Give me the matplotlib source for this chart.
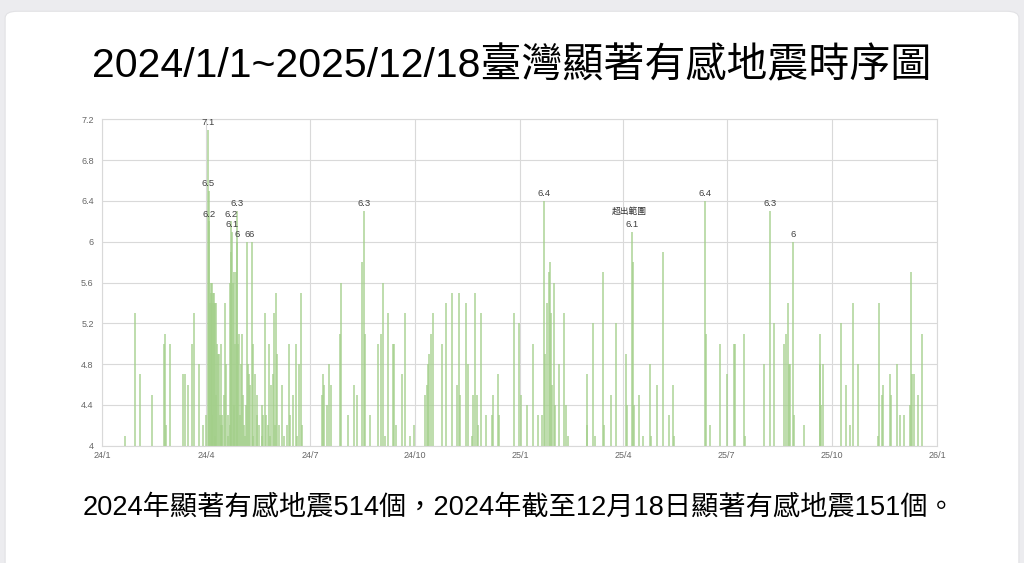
import matplotlib
matplotlib.use('Agg')
import matplotlib.pyplot as plt
import matplotlib.dates as mdates
from matplotlib.patches import FancyBboxPatch
import numpy as np
import datetime as dt

plt.rcParams['font.family'] = ['Liberation Sans', 'Noto Sans CJK TC', 'DejaVu Sans']

# days counted from 2024-01-01, magnitude (only the part above 4 is visible)
days = [
    20, 28.7, 33, 44, 54.5, 55.2, 56.4, 59.3, 71, 72.5, 75.7, 78.6, 80.6, 84.5, 88.5, 90.9,
    93.0, 93.3, 93.6, 94.5, 95, 95.5, 96, 96.3, 96.7, 97.3, 97.9, 98.5, 98.8, 99, 99.6, 100.2,
    100.8, 101.7, 102.5, 103.2, 103.8, 104.6, 105, 105.5, 106.7, 107.8, 109, 110, 110.4, 111.9,
    112, 112.8, 113.3, 113.6, 114.3, 115.2, 116, 116.3, 117.2, 118.0, 118.3, 119, 120, 120.5,
    121.3, 122.7, 123.6, 124, 125, 126, 127, 128, 128.7, 129.5, 130.9, 131.8, 132.5, 133.8,
    135.3, 136, 137.3, 139.7, 140.5, 141.1, 142.6, 144, 145, 146, 147, 148.4, 149.3, 150.7,
    151.5, 152.2, 153.4, 155, 157.5, 159, 161.6, 163.9, 165, 167.4, 169.8, 171, 172.1, 173.9, 175,
    192.3, 193.2, 194.3, 196.7, 198.7, 200.4, 208.3, 209.2, 215, 220.9, 223.5, 227.3, 229.1,
    230.2, 234.6, 241.9, 244.3, 246.3, 247.8, 250.7, 254.5, 255.9, 257.1, 262.4, 265.3, 269.7,
    273.2, 282.8, 284.3, 285.2, 286.6, 288.1, 290.1, 298, 301, 306.2, 311.1, 312.4, 313.8,
    318.8, 320.3, 324, 325.2, 326.7, 328.2, 329.5, 331.9, 336.3, 341.3, 342.7, 347, 347.9,
    361, 365.2,
    366.7, 372, 377.7, 382.1, 385, 387.1, 388, 390, 391.2, 392.4, 393.3, 394.1, 395.3, 396.5,
    400.5, 404.9, 406.4, 407.9, 424.5, 425, 430.3, 431.8, 438.2, 439.1, 445.8, 450.2, 459,
    459.6, 464.2, 464.9, 465.4, 469.8, 473.3, 480, 480.9, 485.9, 491.1, 496.1, 499.9, 500.4,
    527.6, 528.8, 532, 540.8, 547.2, 553, 554.5,
    561.8, 562.7, 579.9, 585.2, 588.1, 596.9, 599, 600.4, 601.2, 602.7, 605, 606.2, 614.4,
    628.4, 629, 629.9, 631.4, 647.2, 651.5, 655.3, 657.4, 661.7, 679.2, 680.1, 682.5, 683.6,
    689.5, 691.2, 696.2, 698.5, 702, 707.3, 708.5, 709.4, 710.8, 714.3, 718.1,
]
mags = [
    4.1, 5.3, 4.7, 4.5, 5.0, 5.1, 4.2, 5.0, 4.7, 4.7, 4.6, 5.0, 5.3, 4.8, 4.2, 4.3,
    7.1, 6.5, 6.2, 5.4, 5.5, 5.6, 5.6, 4.3, 5.4, 5.5, 5.5, 5.4, 5.4, 4.1, 5.4, 4.5,
    5.0, 4.9, 4.9, 4.3, 5.0, 4.2, 4.2, 4.3, 4.5, 5.4, 4.8, 4.1, 4.3, 5.6,
    4.2, 5.9, 6.2, 6.1, 5.6, 5.7, 4.4, 5.0, 5.7, 6.3, 6.0, 5.0, 5.1, 4.3,
    4.8, 5.1, 4.5, 4.2, 4.1, 4.4, 6.0, 4.8, 4.7, 4.6, 6.0, 5.0, 4.1, 4.7,
    4.5, 4.3, 4.2, 4.4, 4.1, 4.3, 5.3, 4.3, 4.2, 5.0, 4.1, 4.6, 4.7, 5.3,
    4.2, 5.5, 4.9, 4.2, 4.6, 4.1, 4.2, 5.0, 4.3, 4.5, 5.0, 4.1, 4.8, 5.5, 4.2,
    4.5, 4.7, 4.6, 4.4, 4.8, 4.6, 5.1, 5.6, 4.3, 4.6, 4.5, 5.8, 6.3,
    5.1, 4.3, 5.0, 5.1, 5.6, 4.1, 5.3, 5.0, 5.0, 4.2, 4.7, 5.3, 4.1,
    4.2, 4.5, 4.6, 4.8, 4.9, 5.1, 5.3, 5.0, 5.4, 5.5, 4.6, 5.5, 4.5,
    5.4, 4.8, 4.1, 4.5, 5.5, 4.5, 4.2, 5.3, 4.3, 4.3, 4.5, 4.7, 4.3,
    5.3, 5.2,
    4.5, 4.4, 5.0, 4.3, 4.3, 6.4, 4.9, 5.4, 5.7, 5.8, 5.3, 4.6, 5.6, 4.4,
    4.8, 5.3, 4.4, 4.1, 4.7, 4.2, 5.2, 4.1, 5.7, 4.2, 4.5, 5.2, 4.9,
    4.4, 6.1, 5.8, 4.4, 4.5, 4.1, 4.8, 4.1, 4.6, 5.9, 4.3, 4.6, 4.1,
    6.4, 5.1, 4.2, 5.0, 4.7, 5.0, 5.0,
    5.1, 4.1, 4.8, 6.3, 5.2, 5.0, 5.1, 5.4, 4.8, 4.8, 6.0, 4.3, 4.2,
    5.1, 4.8, 4.4, 4.8, 5.2, 4.6, 4.2, 5.4, 4.8, 4.1, 5.4, 4.5, 4.6,
    4.7, 4.5, 4.8, 4.3, 4.3, 4.4, 5.7, 4.7, 4.7, 4.5, 5.1,
]

# labelled quakes: day, magnitude, label
label_days = [93.0, 93.3, 93.6, 113.3, 113.6, 118.0, 118.3, 127, 130.9, 229.1, 387.1, 464.2, 527.6, 585.2, 605]
label_mags = [7.1, 6.5, 6.2, 6.2, 6.1, 6.3, 6.0, 6.0, 6.0, 6.3, 6.4, 6.1, 6.4, 6.3, 6.0]
label_txt = ['7.1', '6.5', '6.2', '6.2', '6.1', '6.3', '6', '6', '6', '6.3', '6.4', '6.1', '6.4', '6.3', '6']

quarter_dates = ['2024-01-01', '2024-04-01', '2024-07-01', '2024-10-01', '2025-01-01',
                 '2025-04-01', '2025-07-01', '2025-10-01', '2026-01-01']
quarter_labels = ['24/1', '24/4', '24/7', '24/10', '25/1', '25/4', '25/7', '25/10', '26/1']

title = '2024/1/1~2025/12/18臺灣顯著有感地震時序圖'
note = '2024年顯著有感地震514個，2024年截至12月18日顯著有感地震151個。'

start = mdates.date2num(dt.datetime(2024, 1, 1))
x = start + np.array(days)
lx = start + np.array(label_days)
qx = [mdates.date2num(dt.datetime.fromisoformat(d)) for d in quarter_dates]

fig = plt.figure(figsize=(10.24, 5.63), dpi=100)
fig.patch.set_facecolor('#ececef')
card = FancyBboxPatch((0.005, -0.05), 0.99, 1.03, boxstyle='round,pad=0,rounding_size=0.012',
                      transform=fig.transFigure, facecolor='white', edgecolor='#e2e2e5',
                      lw=0.8, zorder=-10)
fig.patches.append(card)

ax = fig.add_axes([0.0996, 0.2083, 0.8154, 0.5797])
ax.set_facecolor('white')
ax.vlines(x, 4, mags, color='#a3cf8a', lw=1.1, alpha=0.9)

for xi, m, t in zip(lx, label_mags, label_txt):
    ax.annotate(t, (xi, m), xytext=(0, 2), textcoords='offset points',
                ha='center', va='bottom', fontsize=6.8, color='#404040')
ax.annotate('超出範圍', (lx[11], label_mags[11]), xytext=(-2.5, 11), textcoords='offset points',
            ha='center', va='bottom', fontsize=6.3, color='#333333')

ax.set_xlim(qx[0], qx[-1])
ax.set_ylim(4, 7.2)
ax.set_xticks(qx)
ax.set_xticklabels(quarter_labels)
yt = np.round(np.arange(4, 7.21, 0.4), 1)
ax.set_yticks(yt)
ax.set_yticklabels([f'{v:g}' for v in yt])
ax.tick_params(length=0, labelsize=6.5, labelcolor='#666666')
ax.tick_params(axis='y', pad=6)
ax.tick_params(axis='x', pad=4)
ax.grid(True, color='#d9d9d9', lw=0.8)
ax.set_axisbelow(True)
for s in ax.spines.values():
    s.set_color('#d9d9d9')
    s.set_linewidth(0.8)

fig.text(0.5, 0.882, title, ha='center', va='center', fontsize=29.5, color='black')
fig.text(0.507, 0.098, note, ha='center', va='center', fontsize=19.6, color='black')

fig.savefig('out.png', dpi=100, facecolor=fig.get_facecolor())
